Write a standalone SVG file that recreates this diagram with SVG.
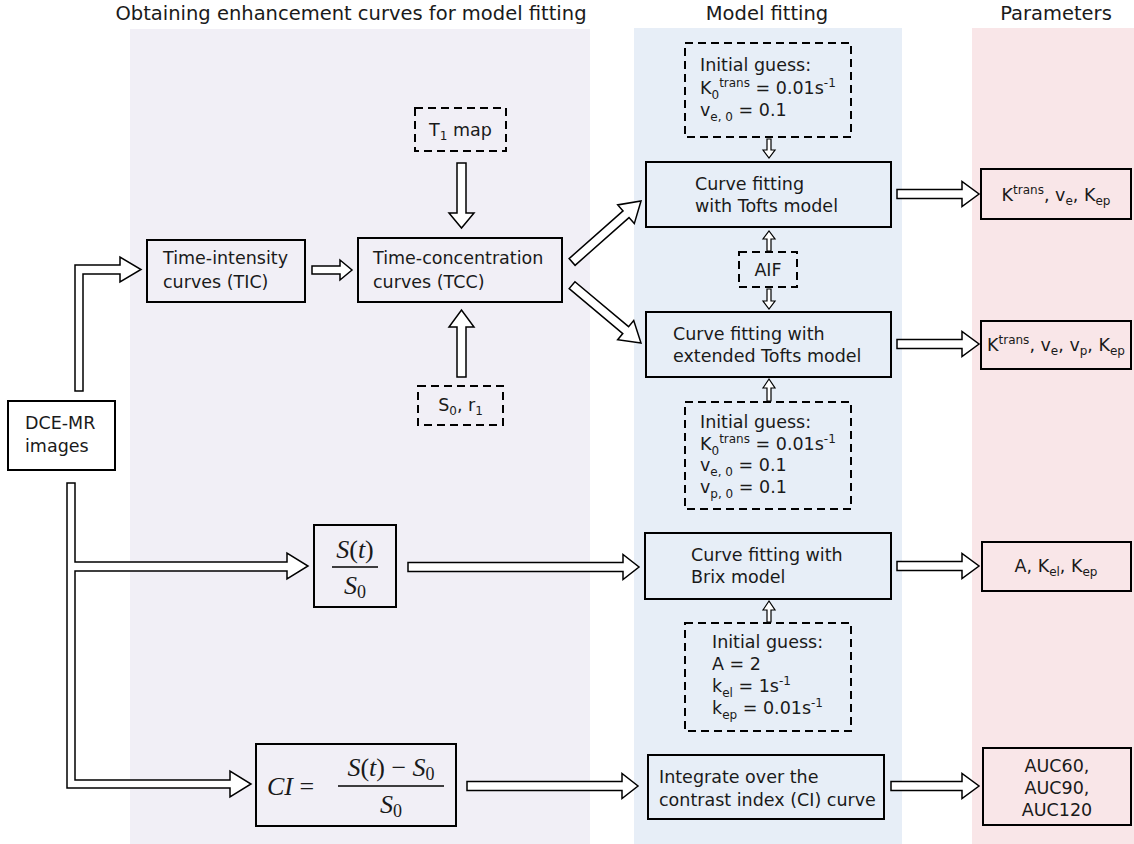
<svg xmlns="http://www.w3.org/2000/svg" width="1134" height="844" viewBox="0 0 1134 844">
<style>
text{font-family:"DejaVu Sans","Verdana",sans-serif;fill:#1a1a1a}
.h{font-size:19.5px;text-anchor:middle}
.t{font-size:17.5px}
.c{text-anchor:middle}
.s{font-size:12px}
.box{fill:none;stroke:#000;stroke-width:2}
.dash{fill:none;stroke:#000;stroke-width:2;stroke-dasharray:8 5}
.arr{fill:#fff;stroke:#000;stroke-width:1.5;stroke-linejoin:miter}
.sarr{fill:#fff;stroke:#000;stroke-width:1.2}
.m{font-family:"Liberation Serif","DejaVu Serif",serif;font-size:26px}
.mi{font-style:italic}
</style>
<defs>
<polygon id="ha" points="0,-4.5 -20,-4.5 -20,-12.5 0,0 -20,12.5 -20,4.5 0,4.5"/>
</defs>
<g id="panels">
<rect x="130" y="29" width="460" height="815" fill="#f1eff6"/>
<rect x="634" y="28" width="268" height="816" fill="#e7eef7"/>
<rect x="972" y="28" width="162" height="816" fill="#f9e6e8"/>
</g>
<g id="headers">
<text class="h" x="351" y="20">Obtaining enhancement curves for model fitting</text>
<text class="h" x="767" y="20">Model fitting</text>
<text class="h" x="1056" y="20">Parameters</text>
</g>
<g id="connectors">
<polygon class="arr" points="75,391 75,265 120,265 120,257 141,269.5 120,282 120,274 83,274 83,391"/>
<polygon class="arr" points="312,266 340,266 340,260 352,270 340,280 340,274 312,274"/>
<polygon class="arr" points="457,163 466,163 466,213 474,213 461.5,228 449,213 457,213"/>
<polygon class="arr" points="457,377 466,377 466,327 474,327 461.5,310 449,327 457,327"/>
<polygon class="arr" transform="translate(641,201) rotate(-41.5)" points="0,0 -20,12.5 -20,4.5 -92,4.5 -92,-4.5 -20,-4.5 -20,-12.5"/>
<polygon class="arr" transform="translate(641,343) rotate(40)" points="0,0 -20,12.5 -20,4.5 -90,4.5 -90,-4.5 -20,-4.5 -20,-12.5"/>
<polygon class="arr" points="897,189.5 962,189.5 962,181.5 979,194 962,206.5 962,198.5 897,198.5"/>
<polygon class="arr" points="897,339.5 962,339.5 962,331.5 979,344 962,356.5 962,348.5 897,348.5"/>
<polygon class="arr" points="897,561.5 962,561.5 962,553.5 979,566 962,578.5 962,570.5 897,570.5"/>
<polygon class="arr" points="891,781.5 962,781.5 962,773.5 979,786 962,798.5 962,790.5 891,790.5"/>
<polygon class="arr" points="408,562.5 623,562.5 623,554.5 639,567 623,579.5 623,571.5 408,571.5"/>
<polygon class="arr" points="467,781.5 622,781.5 622,773.5 638,786 622,798.5 622,790.5 467,790.5"/>
<polygon class="arr" points="67,483 67,788 230,788 230,797 251,784 230,771 230,780 75,780 75,571 287,571 287,579 308,566 287,553 287,562 75,562 75,483"/>
<polygon class="sarr" points="767,139 771,139 771,150 775,150 769,158 763,150 767,150"/>
<polygon class="sarr" points="767,251 771,251 771,239 775,239 769,231 763,239 767,239"/>
<polygon class="sarr" points="767,289 771,289 771,301 775,301 769,309 763,301 767,301"/>
<polygon class="sarr" points="767,401 771,401 771,388 775,388 769,379 763,388 767,388"/>
<polygon class="sarr" points="767,622 771,622 771,610 775,610 769,601 763,610 767,610"/>
</g>
<g id="dce">
<rect class="box" x="8" y="401" width="107" height="69" fill="#fff"/>
<text class="t" x="25" y="429">DCE-MR</text>
<text class="t" x="25" y="452">images</text>
</g>
<g id="tic">
<rect class="box" x="147" y="240" width="158" height="62"/>
<text class="t" x="163" y="264">Time-intensity</text>
<text class="t" x="163" y="288">curves (TIC)</text>
</g>
<g id="tcc">
<rect class="box" x="358" y="238" width="204" height="64"/>
<text class="t" x="373" y="264">Time-concentration</text>
<text class="t" x="373" y="288">curves (TCC)</text>
</g>
<g id="t1map">
<rect class="dash" x="415" y="108" width="91" height="43"/>
<text class="t c" x="460.5" y="136">T<tspan class="s" dy="4">1</tspan><tspan dy="-4"> map</tspan></text>
</g>
<g id="s0r1">
<rect class="dash" x="418" y="386" width="85" height="39"/>
<text class="t c" x="460.5" y="411">S<tspan class="s" dy="4">0</tspan><tspan dy="-4">, r</tspan><tspan class="s" dy="4">1</tspan></text>
</g>
<g id="guess1">
<rect class="dash" x="685" y="43" width="166" height="94"/>
<text class="t" x="700" y="71">Initial guess:</text>
<text class="t" x="700" y="94">K<tspan class="s" dy="5">0</tspan><tspan class="s" dy="-12">trans</tspan><tspan dy="7"> = 0.01s</tspan><tspan class="s" dy="-7">-1</tspan></text>
<text class="t" x="700" y="116">v<tspan class="s" dy="5">e, 0</tspan><tspan dy="-5"> = 0.1</tspan></text>
</g>
<g id="tofts">
<rect class="box" x="646" y="162" width="245" height="65"/>
<text class="t" x="695" y="190">Curve fitting</text>
<text class="t" x="695" y="212">with Tofts model</text>
</g>
<g id="aif">
<rect class="dash" x="739" y="252" width="58" height="35"/>
<text class="t c" x="768" y="276">AIF</text>
</g>
<g id="exttofts">
<rect class="box" x="646" y="312" width="245" height="65"/>
<text class="t" x="673" y="340">Curve fitting with</text>
<text class="t" x="673" y="362">extended Tofts model</text>
</g>
<g id="guess2">
<rect class="dash" x="685" y="402" width="166" height="107"/>
<text class="t" x="700" y="428">Initial guess:</text>
<text class="t" x="700" y="450">K<tspan class="s" dy="5">0</tspan><tspan class="s" dy="-12">trans</tspan><tspan dy="7"> = 0.01s</tspan><tspan class="s" dy="-7">-1</tspan></text>
<text class="t" x="700" y="471">v<tspan class="s" dy="5">e, 0</tspan><tspan dy="-5"> = 0.1</tspan></text>
<text class="t" x="700" y="493">v<tspan class="s" dy="5">p, 0</tspan><tspan dy="-5"> = 0.1</tspan></text>
</g>
<g id="brix">
<rect class="box" x="645" y="533" width="246" height="66"/>
<text class="t" x="691" y="561">Curve fitting with</text>
<text class="t" x="691" y="583">Brix model</text>
</g>
<g id="guess3">
<rect class="dash" x="685" y="623" width="166" height="108"/>
<text class="t" x="712" y="648">Initial guess:</text>
<text class="t" x="712" y="670">A = 2</text>
<text class="t" x="712" y="692">k<tspan class="s" dy="5">el</tspan><tspan dy="-5"> = 1s</tspan><tspan class="s" dy="-7">-1</tspan></text>
<text class="t" x="712" y="714">k<tspan class="s" dy="5">ep</tspan><tspan dy="-5"> = 0.01s</tspan><tspan class="s" dy="-7">-1</tspan></text>
</g>
<g id="ratio">
<rect class="box" x="314" y="525" width="82" height="82"/>
<text class="m c" x="355" y="558"><tspan class="mi">S</tspan>(<tspan class="mi">t</tspan>)</text>
<line x1="332" y1="567" x2="378" y2="567" stroke="#000" stroke-width="1.3"/>
<text class="m c" x="355" y="594"><tspan class="mi">S</tspan><tspan font-size="18" dy="4">0</tspan></text>
</g>
<g id="ci">
<rect class="box" x="256" y="744" width="200" height="82"/>
<text class="m" x="267" y="795"><tspan class="mi">CI</tspan> =</text>
<text class="m c" x="391" y="776"><tspan class="mi">S</tspan>(<tspan class="mi">t</tspan>) − <tspan class="mi">S</tspan><tspan font-size="18" dy="4">0</tspan></text>
<line x1="338" y1="786" x2="444" y2="786" stroke="#000" stroke-width="1.3"/>
<text class="m c" x="391" y="813"><tspan class="mi">S</tspan><tspan font-size="18" dy="4">0</tspan></text>
</g>
<g id="integrate">
<rect class="box" x="648" y="755" width="236" height="64"/>
<text class="t" x="659" y="783">Integrate over the</text>
<text class="t" x="659" y="806">contrast index (CI) curve</text>
</g>
<g id="p1">
<rect class="box" x="981" y="169" width="150" height="50"/>
<text class="t c" x="1056" y="201">K<tspan class="s" dy="-7">trans</tspan><tspan dy="7">, v</tspan><tspan class="s" dy="4">e</tspan><tspan dy="-4">, K</tspan><tspan class="s" dy="4">ep</tspan></text>
</g>
<g id="p2">
<rect class="box" x="981" y="321" width="150" height="48"/>
<text class="t c" x="1056" y="351">K<tspan class="s" dy="-7">trans</tspan><tspan dy="7">, v</tspan><tspan class="s" dy="4">e</tspan><tspan dy="-4">, v</tspan><tspan class="s" dy="4">p</tspan><tspan dy="-4">, K</tspan><tspan class="s" dy="4">ep</tspan></text>
</g>
<g id="p3">
<rect class="box" x="982" y="542" width="149" height="49"/>
<text class="t c" x="1056" y="572">A, K<tspan class="s" dy="4">el</tspan><tspan dy="-4">, K</tspan><tspan class="s" dy="4">ep</tspan></text>
</g>
<g id="auc">
<rect class="box" x="983" y="748" width="148" height="77"/>
<text class="t c" x="1057" y="772">AUC60,</text>
<text class="t c" x="1057" y="794">AUC90,</text>
<text class="t c" x="1057" y="816">AUC120</text>
</g>
</svg>
